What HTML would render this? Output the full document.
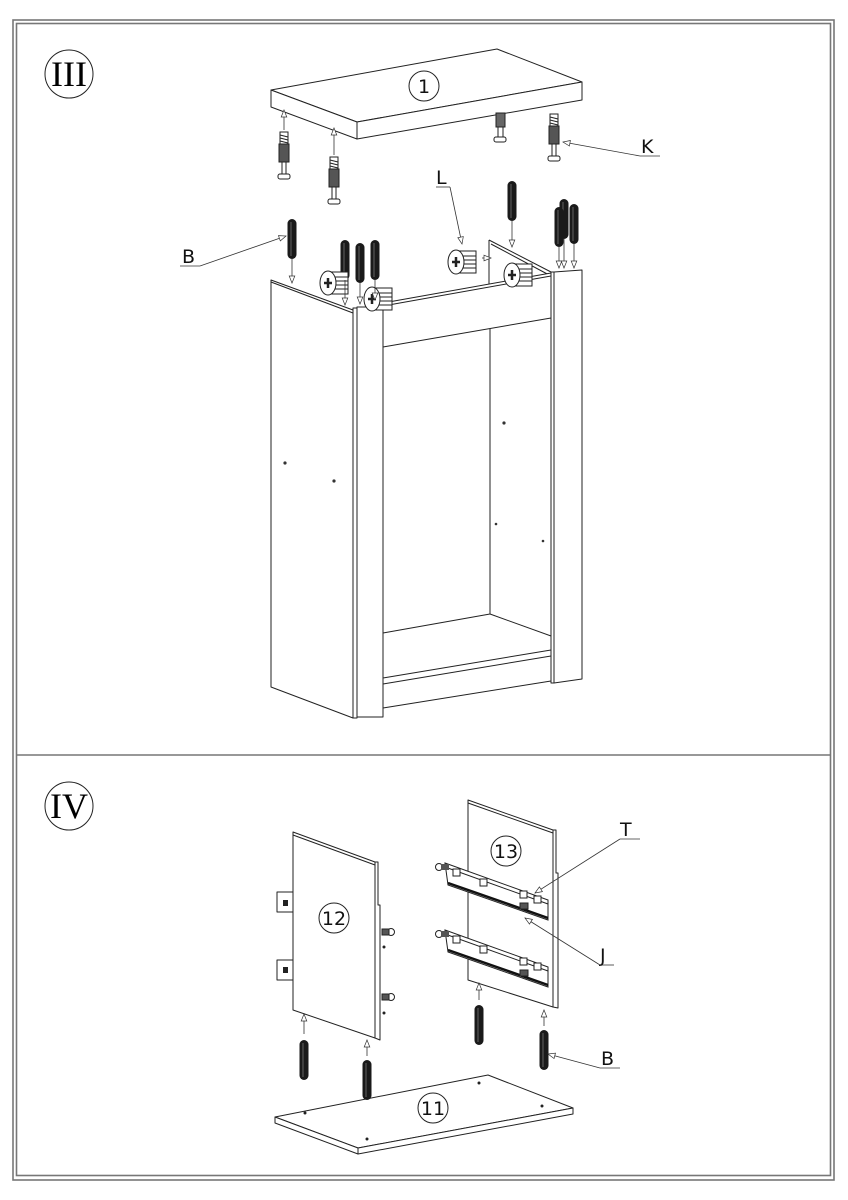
<!DOCTYPE html>
<html><head><meta charset="utf-8"><style>html,body{margin:0;padding:0;background:#fff}svg{display:block}</style></head>
<body>
<svg width="848" height="1200" viewBox="0 0 848 1200" xmlns="http://www.w3.org/2000/svg">
<defs>
<marker id="ar" viewBox="0 0 10 10" refX="10" refY="5" markerWidth="9" markerHeight="7" orient="auto" markerUnits="userSpaceOnUse"><path d="M0,1 L10,5 L0,9 Z" fill="#fff" stroke="#333" stroke-width="1"/></marker>
<g id="dowel"><rect x="-4.5" y="0" width="9" height="40" rx="4.5" fill="#1a1a1a"/><line x1="-1" y1="3" x2="-1" y2="37" stroke="#777" stroke-width="0.8"/></g>
<g id="bolt"><rect x="-4" y="0" width="8" height="12" fill="#fff" stroke="#222"/><line x1="-4" y1="3" x2="4" y2="5" stroke="#222"/><line x1="-4" y1="6" x2="4" y2="8" stroke="#222"/><line x1="-4" y1="9" x2="4" y2="11" stroke="#222"/><rect x="-5" y="12" width="10" height="18" fill="#555" stroke="#222"/><rect x="-2" y="30" width="4" height="12" fill="#fff" stroke="#222"/><rect x="-6" y="42" width="12" height="5" rx="2" fill="#fff" stroke="#222"/></g>
<g id="cam"><rect x="0" y="-11" width="20" height="22" fill="#fff" stroke="#222"/><line x1="3" y1="-6" x2="20" y2="-6" stroke="#222"/><line x1="3" y1="-2" x2="20" y2="-2" stroke="#222"/><line x1="3" y1="2" x2="20" y2="2" stroke="#222"/><line x1="3" y1="6" x2="20" y2="6" stroke="#222"/><ellipse cx="0" cy="0" rx="8" ry="12" fill="#fff" stroke="#222"/><path d="M-4,0 H4 M0,-5 V5" stroke="#222" stroke-width="2.5"/></g>
<g id="rail"><polygon points="0,0 103,37 103,57 3,22" fill="#fff" stroke="#222"/><line x1="0" y1="0" x2="0" y2="4" stroke="#222"/><line x1="0" y1="4" x2="103" y2="41" stroke="#222"/><line x1="3" y1="20" x2="103" y2="55" stroke="#111" stroke-width="2.5"/><rect x="8" y="6" width="7" height="7" fill="#fff" stroke="#222"/><rect x="35" y="16" width="7" height="7" fill="#fff" stroke="#222"/><rect x="75" y="28" width="7" height="7" fill="#fff" stroke="#222"/><rect x="89" y="33" width="7" height="7" fill="#fff" stroke="#222"/><circle cx="-6" cy="4" r="3.5" fill="#fff" stroke="#222"/><rect x="-4" y="1" width="8" height="6" fill="#555"/></g>
</defs>
<g fill="none" stroke="#777" stroke-width="1.6">
<rect x="13" y="20" width="821" height="1160"/>
<rect x="16.5" y="23.5" width="814" height="1152"/>
<line x1="16" y1="755" x2="831" y2="755"/>
</g>
<g font-family="Liberation Serif, serif" font-size="36" text-anchor="middle">
<circle cx="69" cy="74" r="24" fill="none" stroke="#222"/><text x="69" y="86">III</text>
<circle cx="69" cy="806" r="24" fill="none" stroke="#222"/><text x="69" y="818">IV</text>
</g>
<g stroke="#222" stroke-width="1" fill="#fff" stroke-linejoin="round">
<polygon points="271,90 497,49 582,82 357,122"/>
<polygon points="271,90 357,122 357,139 271,107"/>
<polygon points="357,122 582,82 582,100 357,139"/>
<polygon points="489,240 551,273 489,285" stroke="none"/>
<line x1="489" y1="240" x2="489" y2="290"/>
<line x1="489" y1="240" x2="551" y2="272"/>
<line x1="491" y1="244" x2="551" y2="276"/>
<polygon points="271,280 353,310 353,718 271,687"/>
<line x1="271" y1="282" x2="353" y2="313"/>
<rect x="353" y="308" width="4" height="410"/>
<rect x="357" y="307" width="26" height="410"/>
<polygon points="383,303 551,273 551,318 383,347"/>
<line x1="383" y1="306" x2="551" y2="276"/>
<line x1="490" y1="329" x2="490" y2="614"/>
<line x1="383" y1="633" x2="490" y2="614"/>
<line x1="490" y1="614" x2="551" y2="636"/>
<polygon points="383,678 551,650 551,681 383,708"/>
<line x1="383" y1="684" x2="551" y2="656"/>
<rect x="551" y="272" width="3" height="411"/>
<polygon points="554,272 582,270 582,679 554,683"/>
</g>
<g fill="#333">
<circle cx="285" cy="463" r="1.6"/><circle cx="334" cy="481" r="1.6"/><circle cx="504" cy="423" r="1.6"/><circle cx="496" cy="524" r="1.3"/><circle cx="543" cy="541" r="1.3"/>
</g>
<use href="#bolt" x="284" y="132"/><use href="#bolt" x="334" y="157"/>
<use href="#bolt" x="554" y="114"/>
<g stroke="#222" fill="#fff"><rect x="496" y="113" width="9" height="14" fill="#666"/><rect x="498" y="127" width="5" height="10"/><rect x="494" y="137" width="12" height="5" rx="2"/></g>
<use href="#dowel" x="292" y="219"/>
<use href="#dowel" x="345" y="240"/><use href="#dowel" x="360" y="243"/><use href="#dowel" x="375" y="240"/>
<use href="#dowel" x="512" y="181"/>
<use href="#dowel" x="564" y="199"/><use href="#dowel" x="559" y="207"/><use href="#dowel" x="574" y="204"/>
<use href="#cam" x="456" y="262"/>
<use href="#cam" x="328" y="283"/><use href="#cam" x="372" y="299"/><use href="#cam" x="512" y="275"/>
<g stroke="#333" stroke-width="0.8" fill="none" marker-end="url(#ar)">
<line x1="284" y1="130" x2="284" y2="110"/><line x1="334" y1="155" x2="334" y2="128"/>
<line x1="292" y1="259" x2="292" y2="283"/><line x1="345" y1="280" x2="345" y2="305"/><line x1="360" y1="283" x2="360" y2="304"/><line x1="375" y1="280" x2="375" y2="300"/>
<line x1="512" y1="221" x2="512" y2="247"/><line x1="559" y1="247" x2="559" y2="268"/><line x1="564" y1="239" x2="564" y2="268"/><line x1="574" y1="244" x2="574" y2="268"/>
<line x1="482" y1="258" x2="491" y2="258"/>
<line x1="640" y1="156" x2="563" y2="142"/>
<line x1="200" y1="266" x2="286" y2="236"/>
<line x1="450" y1="187" x2="462" y2="244"/>
</g>
<g stroke="#333" stroke-width="0.8"><line x1="640" y1="156" x2="660" y2="156"/><line x1="180" y1="266" x2="200" y2="266"/><line x1="436" y1="187" x2="450" y2="187"/></g>
<g font-family="DejaVu Sans, Liberation Sans, sans-serif" font-size="19" fill="#111">
<text x="641" y="153">K</text><text x="182" y="263">B</text><text x="436" y="184">L</text>
<text x="620" y="836">T</text><text x="600" y="962">J</text><text x="601" y="1065">B</text>
</g>
<g stroke="#222" stroke-width="1" fill="#fff" stroke-linejoin="round">
<rect x="277" y="892" width="16" height="20"/><rect x="277" y="960" width="16" height="20"/>
<polygon points="293,832 375,862 375,1038 293,1010"/>
<line x1="293" y1="835" x2="375" y2="865"/>
<polygon points="375,862 378,862 378,905 380,905 380,1040 375,1038"/>
<polygon points="468,800 553,830 553,1007 468,980"/>
<line x1="468" y1="803" x2="553" y2="833"/>
<polygon points="553,830 556,830 556,873 558,873 558,1008 553,1007"/>
<polygon points="275,1117 488,1075 573,1108 358,1148"/>
<polygon points="275,1117 358,1148 358,1154 275,1123"/>
<polygon points="358,1148 573,1108 573,1114 358,1154"/>
</g>
<g fill="#222"><rect x="283" y="900" width="5" height="6"/><rect x="283" y="967" width="5" height="6"/>
<circle cx="384" cy="947" r="1.5"/><circle cx="384" cy="1013" r="1.5"/>
<circle cx="305" cy="1113" r="1.5"/><circle cx="479" cy="1083" r="1.5"/><circle cx="542" cy="1106" r="1.5"/><circle cx="367" cy="1139" r="1.5"/></g>
<g stroke="#222" fill="#fff"><circle cx="391" cy="932" r="3.5"/><rect x="382" y="929" width="7" height="6" fill="#555"/><circle cx="391" cy="997" r="3.5"/><rect x="382" y="994" width="7" height="6" fill="#555"/></g>
<use href="#rail" x="445" y="863"/><use href="#rail" x="445" y="930"/>
<g stroke="#222" fill="#555"><rect x="520" y="903" width="8" height="6"/><rect x="520" y="970" width="8" height="6"/></g>
<g font-family="DejaVu Sans, Liberation Sans, sans-serif" font-size="19" text-anchor="middle" fill="#111">
<circle cx="424" cy="86" r="15" fill="#fff" stroke="#222"/><text x="424" y="93">1</text>
<circle cx="334" cy="918" r="15" fill="none" stroke="#222"/><text x="334" y="925">12</text>
<circle cx="506" cy="851" r="15" fill="none" stroke="#222"/><text x="506" y="858">13</text>
<circle cx="433" cy="1108" r="15" fill="none" stroke="#222"/><text x="433" y="1115">11</text>
</g>
<use href="#dowel" x="304" y="1040"/><use href="#dowel" x="367" y="1060"/>
<use href="#dowel" x="479" y="1005"/><use href="#dowel" x="544" y="1030"/>
<g stroke="#333" stroke-width="0.8" fill="none" marker-end="url(#ar)">
<line x1="304" y1="1034" x2="304" y2="1014"/><line x1="367" y1="1056" x2="367" y2="1040"/>
<line x1="479" y1="1000" x2="479" y2="983"/><line x1="544" y1="1026" x2="544" y2="1010"/>
<line x1="620" y1="839" x2="535" y2="893"/>
<line x1="600" y1="965" x2="525" y2="918"/>
<line x1="600" y1="1068" x2="548" y2="1054"/>
</g>
<g stroke="#333" stroke-width="0.8"><line x1="620" y1="839" x2="640" y2="839"/><line x1="600" y1="965" x2="614" y2="965"/><line x1="600" y1="1068" x2="620" y2="1068"/></g>
</svg>
</body></html>
